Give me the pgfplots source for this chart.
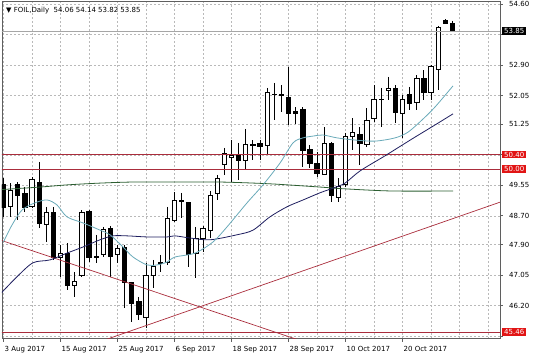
\documentclass[border=0pt]{standalone}
\usepackage{fontspec}
\setmainfont{DejaVu Sans}
\usepackage{pgfplots}
\pgfplotsset{compat=1.18}
\usepackage{pgfplotstable}

\definecolor{maT}{RGB}{105,170,185}
\definecolor{maN}{RGB}{30,30,95}
\definecolor{maG}{RGB}{45,95,50}
\definecolor{lvl}{RGB}{170,45,60}
\definecolor{lbl}{RGB}{225,20,20}
\definecolor{gridc}{RGB}{185,185,185}
\definecolor{axc}{RGB}{95,95,95}

\pgfplotstableread{
i o h l c
0 49.56 49.75 48.67 48.92
1 48.95 49.61 48.67 49.42
2 49.56 49.64 48.58 49.28
3 49.31 49.50 48.81 48.92
4 48.95 49.78 48.92 49.70
5 49.64 50.20 48.36 48.50
6 48.47 48.95 47.97 48.78
7 48.78 48.95 47.47 47.55
8 47.53 47.89 47.00 47.66
9 47.66 47.94 46.63 46.75
10 46.77 47.13 46.44 46.88
11 47.05 48.86 47.00 48.78
12 48.83 48.86 47.41 47.55
13 47.58 48.17 47.39 47.55
14 47.61 48.39 47.55 48.33
15 48.36 48.42 47.00 47.58
16 47.61 47.89 47.39 47.78
17 47.83 47.89 46.13 46.83
18 46.83 46.86 45.74 46.27
19 46.30 46.44 45.80 45.94
20 45.88 47.39 45.57 47.05
21 47.05 47.47 46.69 47.30
22 47.36 47.61 47.13 47.39
23 47.39 48.95 47.33 48.64
24 48.58 49.36 48.53 49.14
25 49.14 49.34 48.64 49.10
26 49.06 49.08 47.27 47.61
27 47.66 48.39 46.97 48.08
28 48.08 48.42 47.69 48.36
29 48.30 49.39 48.08 49.28
30 49.31 49.84 49.14 49.73
31 50.14 50.59 49.84 50.45
32 50.34 50.81 49.64 50.37
33 50.37 50.73 49.70 50.25
34 50.25 51.12 49.98 50.70
35 50.67 50.81 50.25 50.70
36 50.73 50.81 50.25 50.62
37 50.67 52.26 50.39 52.15
38 52.07 52.40 51.37 52.09
39 52.09 52.34 51.59 52.04
40 52.01 52.85 51.23 51.56
41 51.62 51.73 51.26 51.54
42 51.65 51.73 50.06 50.53
43 50.56 50.67 50.03 50.17
44 50.17 50.48 49.78 49.89
45 49.84 51.17 49.84 50.73
46 50.73 50.76 49.08 49.28
47 49.22 49.75 49.08 49.53
48 49.56 51.01 49.50 50.92
49 50.90 51.42 50.53 51.01
50 50.98 51.17 50.12 50.73
51 50.70 51.70 50.62 51.37
52 51.40 52.34 51.31 51.93
53 51.93 52.26 51.17 51.95
54 52.18 52.57 51.93 52.26
55 52.26 52.34 51.29 51.59
56 51.56 52.07 50.87 51.95
57 52.07 52.29 51.65 51.84
58 51.87 52.62 51.65 52.54
59 52.54 52.76 51.93 52.15
60 52.15 52.90 51.93 52.85
61 52.79 53.99 52.20 53.96
62 54.13 54.18 54.07 54.07
63 54.06 54.14 53.82 53.85
}\candles

\pgfplotstableread{
x y
0.00 47.97
1.19 48.44
2.60 48.86
4.42 49.06
6.11 49.14
7.51 49.00
8.91 48.67
11.16 48.50
13.54 48.30
14.95 48.17
16.77 47.83
18.18 47.55
20.14 47.33
21.54 47.33
22.95 47.41
24.07 47.55
26.88 47.66
29.40 47.97
31.37 48.39
34.18 49.06
36.42 49.56
38.81 50.17
40.63 50.73
42.04 50.87
43.44 50.92
44.84 50.95
46.81 50.87
49.33 50.81
52.14 50.78
54.95 50.87
56.77 51.03
58.74 51.37
60.56 51.73
63.09 52.32
}\maTeal

\pgfplotstableread{
x y
-0.30 46.55
1.89 47.00
4.14 47.39
6.53 47.47
8.91 47.66
11.16 47.83
13.54 48.03
15.37 48.14
17.33 48.14
20.14 48.11
22.95 48.11
24.07 48.14
26.18 48.08
28.98 48.03
32.77 48.17
35.02 48.30
37.40 48.67
39.79 48.95
42.04 49.14
44.42 49.34
46.25 49.47
47.93 49.61
50.04 49.95
53.54 50.37
57.33 50.84
60.56 51.23
63.09 51.54
}\maNavy

\pgfplotstableread{
x y
-0.30 49.43
5.12 49.50
8.91 49.56
13.54 49.61
18.18 49.64
24.07 49.64
30.39 49.64
37.40 49.59
44.42 49.50
47.93 49.45
54.53 49.39
63.09 49.39
}\maGreen

\begin{document}
\begin{tikzpicture}
\begin{axis}[
  scale only axis, width=498pt, height=337pt,
  at={(0,0)}, anchor=south west,
  xmin=-0.21, xmax=69.68, ymin=45.28, ymax=54.67,
  axis line style={axc, line width=0.8pt},
  clip mode=individual,
  xtick={0,8,...,56},
  xticklabels={3 Aug 2017,15 Aug 2017,25 Aug 2017,6 Sep 2017,18 Sep 2017,28 Sep 2017,10 Oct 2017,20 Oct 2017},
  minor xtick={4,12,...,60,64,68},
  ytick={45.35,46.20,47.05,47.90,48.70,49.55,50.40,51.25,52.05,52.90,53.75,54.60},
  yticklabels={,46.20,47.05,47.90,48.70,49.55,,51.25,52.05,52.90,,54.60},
  xtick pos=bottom, ytick pos=right, yticklabel pos=right,
  tick align=outside, major tick length=3pt, minor tick length=0pt,
  tick style={axc, line width=0.6pt},
  xmajorgrids, xminorgrids, ymajorgrids,
  major grid style={gridc, dash pattern=on 2pt off 2pt, line width=0.5pt},
  minor grid style={gridc, dash pattern=on 2pt off 2pt, line width=0.5pt},
  ticklabel style={font=\fontsize{7}{8}\selectfont, text=black},
  xticklabel style={anchor=north west, inner sep=0pt, xshift=1pt, yshift=-5pt},
  yticklabel style={anchor=west, inner sep=0pt, xshift=6pt},
]
% candles: wick and body of each row of \candles
\pgfplotsinvokeforeach{0,...,63}{%
  \pgfplotstablegetelem{#1}{o}\of\candles \let\candO=\pgfplotsretval
  \pgfplotstablegetelem{#1}{h}\of\candles \let\candH=\pgfplotsretval
  \pgfplotstablegetelem{#1}{l}\of\candles \let\candL=\pgfplotsretval
  \pgfplotstablegetelem{#1}{c}\of\candles \let\candC=\pgfplotsretval
  \pgfmathsetmacro\candXa{#1-0.3}%
  \pgfmathsetmacro\candXb{#1+0.3}%
  \addplot[black, line width=0.8pt] coordinates {(#1,\candH) (#1,\candL)};
  \ifdim\candO pt>\candC pt
    \addplot[draw=black, fill=black, line width=0.8pt] coordinates {(\candXa,\candO) (\candXb,\candO) (\candXb,\candC) (\candXa,\candC)} -- cycle;
  \else
    \addplot[draw=black, fill=white, line width=0.8pt] coordinates {(\candXa,\candO) (\candXb,\candO) (\candXb,\candC) (\candXa,\candC)} -- cycle;
  \fi
}

% horizontal levels and trend lines
\addplot[gray!70, line width=0.6pt] coordinates {(-1,53.85) (71,53.85)};
\addplot[lvl, line width=0.8pt] coordinates {(-1,50.40) (71,50.40)};
\addplot[lvl, line width=0.8pt] coordinates {(-1,50.00) (71,50.00)};
\addplot[lvl, line width=0.8pt] coordinates {(-1,45.46) (71,45.46)};
\addplot[lvl, line width=0.7pt] coordinates {(-1,48.06) (42,45.20)};
\addplot[lvl, line width=0.7pt] coordinates {(14,45.225) (71,49.17)};

% moving averages
\addplot[maG, line width=0.8pt, smooth] table[x=x,y=y] {\maGreen};
\addplot[maN, line width=0.8pt, smooth] table[x=x,y=y] {\maNavy};
\addplot[maT, line width=0.8pt, smooth] table[x=x,y=y] {\maTeal};

% labels
\node[anchor=north west, inner sep=0pt, font=\fontsize{7}{8}\selectfont] at (rel axis cs:0,1) [xshift=4pt, yshift=-5pt] {▼ FOIL,Daily\ \ 54.06 54.14 53.82 53.85};
\node[anchor=west, fill=black, text=white, inner xsep=2pt, inner ysep=1pt, font=\fontsize{7}{8}\selectfont] at (axis cs:69.68,53.85) [xshift=2pt] {53.85};
\node[anchor=west, fill=lbl, text=white, inner xsep=2pt, inner ysep=1pt, font=\fontsize{7}{8}\selectfont] at (axis cs:69.68,50.40) [xshift=2pt] {50.40};
\node[anchor=west, fill=lbl, text=white, inner xsep=2pt, inner ysep=1pt, font=\fontsize{7}{8}\selectfont] at (axis cs:69.68,50.00) [xshift=2pt] {50.00};
\node[anchor=west, fill=lbl, text=white, inner xsep=2pt, inner ysep=1pt, font=\fontsize{7}{8}\selectfont] at (axis cs:69.68,45.46) [xshift=2pt] {45.46};
\end{axis}
\pgfresetboundingbox
\path[use as bounding box] (-2pt,-18.5pt) rectangle (534pt,338.5pt);
\end{tikzpicture}
\end{document}
